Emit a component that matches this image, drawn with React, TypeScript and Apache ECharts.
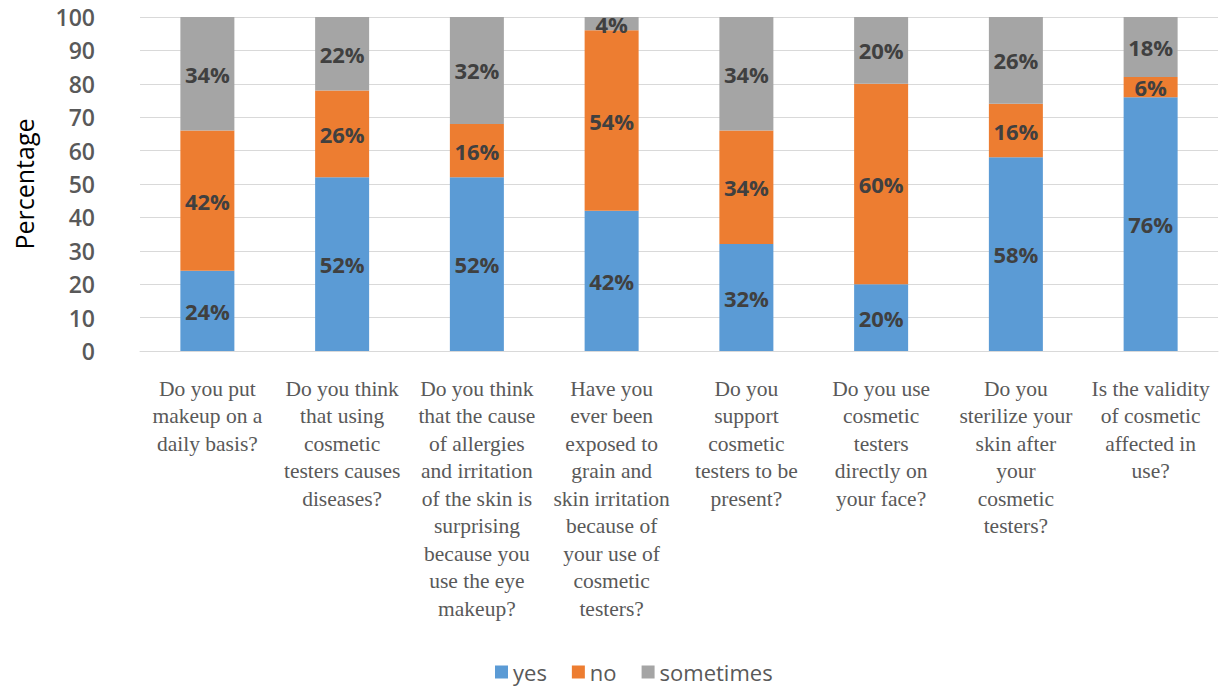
import React, { useEffect, useRef } from "react";
import * as echarts from "echarts";

const categories = [
  "Do you put\nmakeup on a\ndaily basis?",
  "Do you think\nthat using\ncosmetic\ntesters causes\ndiseases?",
  "Do you think\nthat the cause\nof allergies\nand irritation\nof the skin is\nsurprising\nbecause you\nuse the eye\nmakeup?",
  "Have you\never been\nexposed to\ngrain and\nskin irritation\nbecause of\nyour use of\ncosmetic\ntesters?",
  "Do you\nsupport\ncosmetic\ntesters to be\npresent?",
  "Do you use\ncosmetic\ntesters\ndirectly on\nyour face?",
  "Do you\nsterilize your\nskin after\nyour\ncosmetic\ntesters?",
  "Is the validity\nof cosmetic\naffected in\nuse?",
];
const yesValues = [24, 52, 52, 42, 32, 20, 58, 76];
const noValues = [42, 26, 16, 54, 34, 60, 16, 6];
const sometimesValues = [34, 22, 32, 4, 34, 20, 26, 18];
const seriesNames = ["yes", "no", "sometimes"];
const colors = ["#5B9BD5", "#ED7D31", "#A5A5A5"];

export default function App() {
  const ref = useRef<HTMLDivElement>(null);
  useEffect(() => {
    document.body.style.margin = "0";
    const chart = echarts.init(ref.current!, null, { renderer: "svg" });
    const label = {
      show: true,
      position: "inside",
      formatter: (p: any) => p.value + "%",
      fontFamily: "Open Sans",
      fontWeight: "bold",
      fontSize: 22,
      color: "#404040",
    };
    const data = [yesValues, noValues, sometimesValues];
    chart.setOption({
      animation: false,
      color: colors,
      grid: { left: 140, right: 8, top: 17, bottom: 336 },
      legend: {
        data: seriesNames,
        left: 495,
        top: 661,
        padding: 0,
        icon: "rect",
        itemWidth: 13,
        itemHeight: 13,
        itemGap: 25,
        textStyle: { fontFamily: "Open Sans", fontSize: 22, color: "#595959", lineHeight: 22 },
      },
      xAxis: {
        type: "category",
        data: categories,
        axisLine: { show: true, lineStyle: { color: "#D9D9D9" } },
        axisTick: { show: false },
        axisLabel: {
          interval: 0,
          margin: 24,
          fontFamily: "Liberation Serif",
          fontSize: 21.5,
          lineHeight: 27.5,
          color: "#595959",
          align: "center",
        },
      },
      yAxis: {
        type: "value",
        min: 0,
        max: 100,
        interval: 10,
        name: "Percentage",
        nameLocation: "middle",
        nameRotate: 90,
        nameGap: 104,
        nameTextStyle: { fontFamily: "Open Sans", fontSize: 25, color: "#000" },
        axisLine: { show: false },
        axisTick: { show: false },
        splitLine: { lineStyle: { color: "#D9D9D9" } },
        axisLabel: {
          margin: 45,
          fontFamily: "Open Sans",
          fontWeight: 600,
          fontSize: 23,
          color: "#595959",
        },
      },
      series: seriesNames.map((name, i) => ({
        name,
        type: "bar",
        stack: "total",
        barWidth: 54,
        data: data[i],
        label,
      })),
    });
    return () => chart.dispose();
  }, []);
  return <div ref={ref} style={{ width: 1226, height: 687 }} />;
}
